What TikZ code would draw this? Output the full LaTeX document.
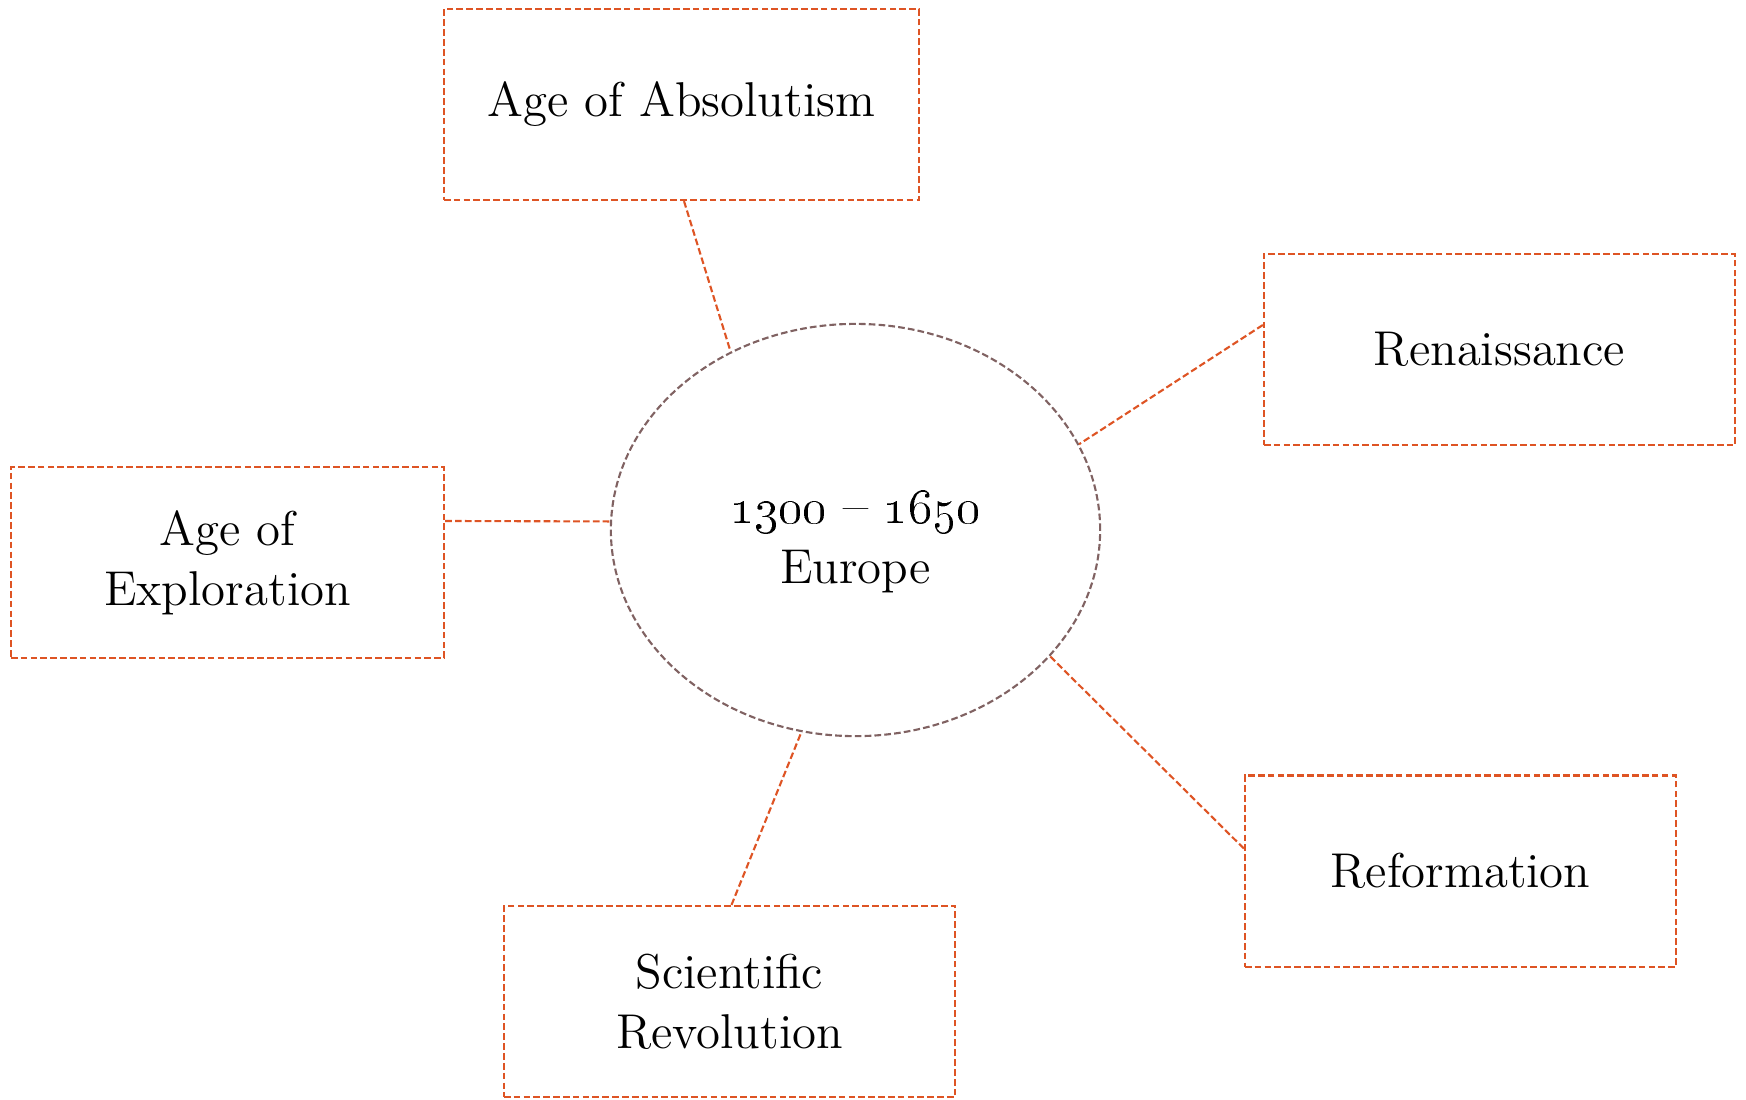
\documentclass[tikz,border=0pt]{standalone}
\usetikzlibrary{shapes.geometric,positioning}
\definecolor{rust}{RGB}{222,84,36}
\definecolor{mauve}{RGB}{128,98,98}
\newcommand{\yr}[1]{{\fontsize{15.5}{17}\selectfont\oldstylenums{#1}}}

\begin{document}
\begin{tikzpicture}[x=0.01cm, y=-0.01cm,
    dsh/.style = {line width=0.6pt, dash pattern=on 1.9pt off 0.9pt},
    box/.style = {draw=rust, dsh, rectangle, align=center,
                  minimum height=1.91cm, inner sep=0pt,
                  font=\fontsize{13.9}{17}\selectfont},
    hub/.style = {draw=mauve, dsh, ellipse, align=center,
                  minimum width=4.89cm, minimum height=4.12cm, inner sep=0pt,
                  font=\fontsize{13.9}{17}\selectfont},
     ln/.style = {draw=rust, dsh}
                    ]
\useasboundingbox (0,0) rectangle (1746,1099);
\node (eur) [hub] at (855.5,530)   {\rule{0pt}{16pt}\yr{1300} {\fontsize{15.5}{17}\selectfont--} \yr{1650}\\ Europe};
\node (abs) [box,minimum width=4.75cm] at (681.5,104.5) {Age of Absolutism};
\node (ren) [box,minimum width=4.71cm] at (1499.5,349.5) {Renaissance};
\node (exp) [box,minimum width=4.33cm] at (227.5,562.5)  {Age of\\ Exploration};
\node (ref) [box,minimum width=4.31cm] at (1460.5,871)   {Reformation};
\node (sci) [box,minimum width=4.51cm] at (729.5,1001.5) {Scientific\\ Revolution};
% spokes
\path[ln]
    ([xshift=0.25mm]abs.south)       edge (eur.125.5)
    ([yshift=2.45mm]ren.west)        edge (eur.21)
    ([yshift=4.15mm]exp.east)        edge (eur.178)
    ([yshift=2.25mm]ref.west)        edge (eur.-33)
    ([xshift=0.2mm]sci.north)        edge (eur.255.6);
\end{tikzpicture}
\end{document}
